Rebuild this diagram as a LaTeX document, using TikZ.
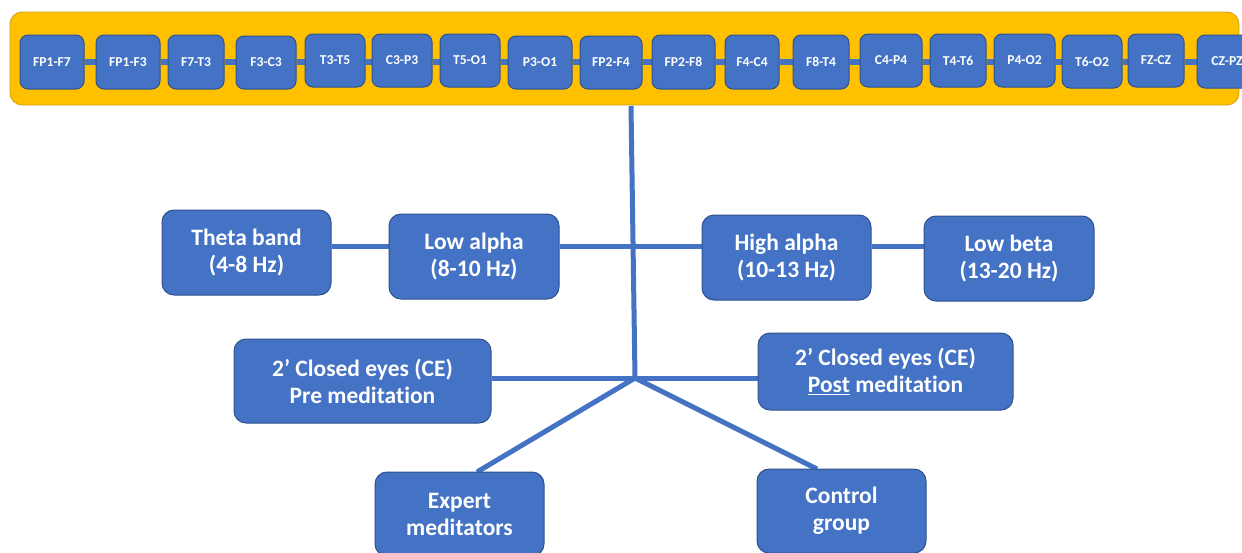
\documentclass[tikz,border=0pt]{standalone}
\usepackage{fontspec}
\setmainfont[Ligatures=NoCommon]{Carlito}
\usetikzlibrary{backgrounds}
\definecolor{boxblue}{HTML}{4472C4}
\definecolor{boxedge}{HTML}{2F528F}
\definecolor{gold}{HTML}{FFC000}
\definecolor{goldedge}{HTML}{D4A017}
\begin{document}
\begin{tikzpicture}[x=1pt,y=-1pt,
  smallbox/.style={draw=boxedge, line width=1pt, fill=boxblue, rounded corners=8pt, text=white,
    font=\fontsize{13.6}{15}\selectfont\bfseries, inner sep=0pt},
  bigbox/.style={draw=boxedge, line width=1pt, fill=boxblue, rounded corners=12pt, text=white,
    font=\fontsize{23.5}{27}\selectfont\bfseries, align=center, inner sep=0pt},
  link/.style={draw=boxblue, line width=5pt},
  chain/.style={draw=boxblue, line width=5.5pt}]
\useasboundingbox (0,0) rectangle (1242,552);
\begin{scope}[on background layer]
  \fill[white] (0,0) rectangle (1242,552);
  \draw[fill=gold, draw=goldedge, line width=0.8pt, rounded corners=12pt] (10,12) rectangle (1239,105);
\end{scope}
% electrode pair boxes
\foreach \n/\a/\b/\c/\d/\t in {
  e1/20/84/35/89/FP1-F7, e2/96/160/35/89/FP1-F3, e3/168/224/35/89/F7-T3,
  e4/236/296/36/89/F3-C3, e5/305/365/34/87/T3-T5, e6/372/432/34/87/C3-P3,
  e7/440/500/34/87/T5-O1, e8/508/572/36/89/P3-O1, e9/580/642/36/89/FP2-F4,
  e10/652/715/35/89/FP2-F8, e11/725/779/35/89/F4-C4, e12/793/849/35/89/F8-T4,
  e13/860/922/34/87/C4-P4, e14/930/986/34/87/T4-T6, e15/994/1055/34/87/P4-O2,
  e16/1062/1122/35/88/T6-O2, e17/1128/1184/34/87/FZ-CZ, e18/1197/1257/35/88/CZ-PZ}{
  \pgfmathsetmacro\w{\b-\a}
  \pgfmathsetmacro\h{\d-\c}
  \node[smallbox, minimum width=\w pt, minimum height=\h pt] (\n) at ({(\a+\b)/2},{(\c+\d)/2}) {\t};
}
\coordinate (chainy) at (0,62);
\begin{scope}[on background layer]
  \foreach \i [evaluate=\i as \j using int(\i+1)] in {1,...,17}{
    \draw[chain] (e\i.east |- chainy) -- (e\j.west |- chainy);
  }
\end{scope}
% frequency bands
\node[bigbox, minimum width=169pt, minimum height=85pt] (theta) at (246.5,252.5) {Theta band\\(4-8 Hz)};
\node[bigbox, minimum width=170pt, minimum height=85pt] (lowa) at (474,256.5) {Low alpha\\(8-10 Hz)};
\node[bigbox, minimum width=169pt, minimum height=85pt] (higha) at (786.5,257.5) {High alpha\\(10-13 Hz)};
\node[bigbox, minimum width=170pt, minimum height=85pt] (lowb) at (1009,258.5) {Low beta\\(13-20 Hz)};
% conditions
\node[bigbox, minimum width=257pt, minimum height=84pt] (pre) at (362.5,381) {2’ Closed eyes (CE)\\Pre meditation};
\node[bigbox, minimum width=255pt, minimum height=77pt] (post) at (885.5,371.5) {2’ Closed eyes (CE)\\\underline{Post} meditation};
% groups
\node[bigbox, minimum width=169pt, minimum height=84pt] (expert) at (459.5,514) {Expert\\meditators};
\node[bigbox, minimum width=169pt, minimum height=84pt] (control) at (841.5,511) {Control\\group};
% connectors
\coordinate (trunktop) at (631,106);
\coordinate (J) at (635,378);
\coordinate (bandy) at (0,246);
\coordinate (expin) at (477,472);
\coordinate (conin) at (817,469);
\begin{scope}[on background layer]
  \draw[link] (trunktop) -- (J);
  \draw[link] (theta.east |- bandy) -- (lowa.west |- bandy);
  \draw[link] (lowa.east |- bandy) -- (higha.west |- bandy);
  \draw[link] (higha.east |- bandy) -- (lowb.west |- bandy);
  \draw[link] (pre.east |- J) -- (post.west |- J);
  \draw[link] (J) -- (expin);
  \draw[link] (J) -- (conin);
\end{scope}
\end{tikzpicture}
\end{document}
